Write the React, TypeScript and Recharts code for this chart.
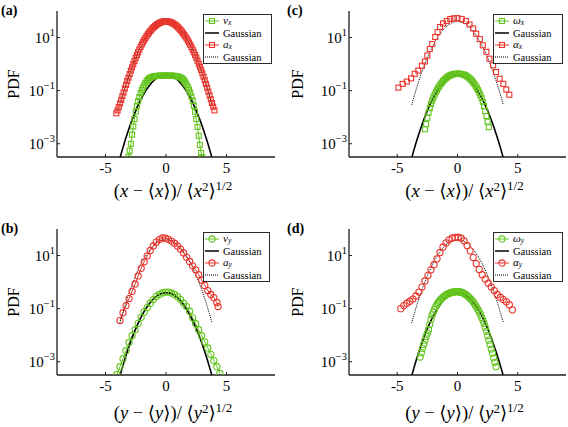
import React from 'react';
import { LineChart, Line, XAxis, YAxis, Legend } from 'recharts';

type Pt = [number, number];

const GREEN = '#62c41c';
const RED = '#e8342c';
const AXIS = '#1e1e1e';
const FONT = '"Liberation Serif", "DejaVu Serif", serif';

const X_DOMAIN: [number, number] = [-9, 9];
const X_TICKS = [-5, 0, 5];
const Y_DOMAIN: [number, number] = [0.000316, 100];
const Y_TICKS = [0.001, 0.1, 10];

// Gaussian reference curves (unit variance, and shifted by x100)
const gaussCurve: Pt[] = [[-3.9,0.000199],[-3.8,0.000292],[-3.6,0.000612],[-3.4,0.00123],[-3.2,0.00238],[-3.0,0.00443],[-2.8,0.00792],[-2.6,0.0136],[-2.4,0.0224],[-2.2,0.0355],[-2.0,0.054],[-1.8,0.079],[-1.6,0.111],[-1.4,0.15],[-1.2,0.194],[-1.0,0.242],[-0.8,0.29],[-0.6,0.333],[-0.4,0.368],[-0.2,0.391],[0,0.399],[0.2,0.391],[0.4,0.368],[0.6,0.333],[0.8,0.29],[1.0,0.242],[1.2,0.194],[1.4,0.15],[1.6,0.111],[1.8,0.079],[2.0,0.054],[2.2,0.0355],[2.4,0.0224],[2.6,0.0136],[2.8,0.00792],[3.0,0.00443],[3.2,0.00238],[3.4,0.00123],[3.6,0.000612],[3.8,0.000292],[3.9,0.000199]];
const gaussCurve100: Pt[] = [[-3.8,0.0292],[-3.6,0.0612],[-3.4,0.123],[-3.2,0.238],[-3.0,0.443],[-2.8,0.792],[-2.6,1.36],[-2.4,2.24],[-2.2,3.55],[-2.0,5.4],[-1.8,7.9],[-1.6,11.1],[-1.4,15.0],[-1.2,19.4],[-1.0,24.2],[-0.8,29.0],[-0.6,33.3],[-0.4,36.8],[-0.2,39.1],[0,39.9],[0.2,39.1],[0.4,36.8],[0.6,33.3],[0.8,29.0],[1.0,24.2],[1.2,19.4],[1.4,15.0],[1.6,11.1],[1.8,7.9],[2.0,5.4],[2.2,3.55],[2.4,2.24],[2.6,1.36],[2.8,0.792],[3.0,0.443],[3.2,0.238],[3.4,0.123],[3.6,0.0612],[3.8,0.0292]];

// (a) v_x and a_x
const vxPdf: Pt[] = [[-3.1,0.00032],[-3.0,0.00055],[-2.9,0.001],[-2.8,0.0022],[-2.7,0.0045],[-2.6,0.0085],[-2.5,0.016],[-2.4,0.026],[-2.3,0.04],[-2.2,0.057],[-2.1,0.08],[-2.0,0.105],[-1.9,0.13],[-1.8,0.16],[-1.7,0.195],[-1.6,0.23],[-1.5,0.26],[-1.4,0.285],[-1.3,0.305],[-1.2,0.32],[-1.1,0.335],[-1.0,0.345],[-0.9,0.352],[-0.8,0.357],[-0.7,0.36],[-0.6,0.362],[-0.5,0.364],[-0.4,0.365],[-0.3,0.366],[-0.2,0.366],[-0.1,0.367],[0,0.367],[0.1,0.367],[0.2,0.366],[0.3,0.365],[0.4,0.364],[0.5,0.363],[0.6,0.361],[0.7,0.358],[0.8,0.353],[0.9,0.346],[1.0,0.337],[1.1,0.326],[1.2,0.312],[1.3,0.294],[1.4,0.27],[1.5,0.24],[1.6,0.205],[1.7,0.17],[1.8,0.138],[1.9,0.11],[2.0,0.083],[2.1,0.06],[2.2,0.042],[2.3,0.027],[2.4,0.016],[2.5,0.0085],[2.6,0.0043],[2.7,0.002],[2.8,0.0009],[2.9,0.00045],[3.0,0.00031]];
const axPdf: Pt[] = [[-4.1,0.014],[-4.0,0.018],[-3.9,0.024],[-3.8,0.033],[-3.7,0.045],[-3.6,0.062],[-3.5,0.085],[-3.4,0.12],[-3.3,0.165],[-3.2,0.23],[-3.1,0.31],[-3.0,0.42],[-2.9,0.57],[-2.8,0.76],[-2.7,1.0],[-2.6,1.32],[-2.5,1.72],[-2.4,2.2],[-2.3,2.8],[-2.2,3.55],[-2.1,4.45],[-2.0,5.5],[-1.9,6.7],[-1.8,8.1],[-1.7,9.7],[-1.6,11.4],[-1.5,13.3],[-1.4,15.4],[-1.3,17.6],[-1.2,20],[-1.1,22.4],[-1.0,24.9],[-0.9,27.3],[-0.8,29.7],[-0.7,32],[-0.6,34.2],[-0.5,36.2],[-0.4,37.9],[-0.3,39.3],[-0.2,40.3],[-0.1,40.9],[0,41.1],[0.1,40.9],[0.2,40.2],[0.3,39.1],[0.4,37.6],[0.5,35.8],[0.6,33.8],[0.7,31.5],[0.8,29.1],[0.9,26.6],[1.0,24.1],[1.1,21.6],[1.2,19.2],[1.3,16.9],[1.4,14.7],[1.5,12.7],[1.6,10.9],[1.7,9.3],[1.8,7.8],[1.9,6.5],[2.0,5.35],[2.1,4.35],[2.2,3.5],[2.3,2.8],[2.4,2.22],[2.5,1.74],[2.6,1.35],[2.7,1.04],[2.8,0.79],[2.9,0.6],[3.0,0.45],[3.1,0.335],[3.2,0.245],[3.3,0.178],[3.4,0.128],[3.5,0.092],[3.6,0.066],[3.7,0.047],[3.8,0.034],[3.9,0.025],[4.0,0.018]];

// (b) v_y and a_y
const vyPdf: Pt[] = [[-4.05,0.00033],[-3.8,0.00065],[-3.55,0.0013],[-3.3,0.0026],[-3.05,0.0053],[-2.8,0.0095],[-2.55,0.016],[-2.3,0.028],[-2.05,0.047],[-1.8,0.075],[-1.55,0.11],[-1.3,0.16],[-1.05,0.22],[-0.8,0.29],[-0.55,0.34],[-0.3,0.39],[-0.05,0.42],[0.2,0.42],[0.45,0.39],[0.7,0.34],[0.95,0.28],[1.2,0.22],[1.45,0.16],[1.7,0.12],[1.95,0.08],[2.2,0.045],[2.45,0.027],[2.7,0.016],[2.95,0.0095],[3.2,0.0056],[3.45,0.0033],[3.7,0.0019],[3.95,0.0011],[4.2,0.00065],[4.45,0.00036]];
const ayPdf: Pt[] = [[-3.8,0.036],[-3.55,0.07],[-3.3,0.13],[-3.05,0.24],[-2.8,0.45],[-2.55,0.85],[-2.3,1.7],[-2.05,3.3],[-1.8,5.8],[-1.55,9.8],[-1.3,15.5],[-1.05,23],[-0.8,32],[-0.55,40],[-0.3,46],[-0.05,45],[0.2,41],[0.45,35],[0.7,29],[0.95,23],[1.2,17.5],[1.45,12.5],[1.7,8.7],[1.95,6.0],[2.2,4.1],[2.45,2.9],[2.7,1.9],[2.95,1.2],[3.2,0.75],[3.45,0.48],[3.7,0.34],[3.95,0.26],[4.2,0.17],[4.3,0.12]];

// (c) omega_x and alpha_x
const wxPdf: Pt[] = [[-2.7,0.0035],[-2.6,0.0055],[-2.5,0.0095],[-2.4,0.015],[-2.3,0.022],[-2.2,0.031],[-2.1,0.042],[-2.0,0.055],[-1.9,0.07],[-1.8,0.087],[-1.7,0.106],[-1.6,0.127],[-1.5,0.15],[-1.4,0.175],[-1.3,0.2],[-1.2,0.227],[-1.1,0.255],[-1.0,0.283],[-0.9,0.31],[-0.8,0.335],[-0.7,0.358],[-0.6,0.378],[-0.5,0.395],[-0.4,0.41],[-0.3,0.42],[-0.2,0.428],[-0.1,0.432],[0,0.434],[0.1,0.433],[0.2,0.43],[0.3,0.424],[0.4,0.415],[0.5,0.402],[0.6,0.386],[0.7,0.366],[0.8,0.344],[0.9,0.318],[1.0,0.29],[1.1,0.262],[1.2,0.233],[1.3,0.205],[1.4,0.178],[1.5,0.152],[1.6,0.128],[1.7,0.106],[1.8,0.086],[1.9,0.068],[2.0,0.052],[2.1,0.038],[2.2,0.026],[2.3,0.017],[2.4,0.011],[2.5,0.0068],[2.6,0.0042]];
const alxPdf: Pt[] = [[-4.9,0.13],[-4.55,0.18],[-4.2,0.22],[-3.85,0.29],[-3.55,0.43],[-3.25,0.57],[-2.95,0.87],[-2.7,1.25],[-2.5,2.1],[-2.3,3.7],[-2.1,5.7],[-1.85,10.5],[-1.65,16],[-1.45,25],[-1.2,34],[-0.9,42],[-0.6,50],[-0.3,53],[0,54],[0.35,50],[0.7,42],[1.0,31],[1.3,22],[1.55,14],[1.85,8.7],[2.1,5.1],[2.4,2.9],[2.65,1.6],[2.95,0.9],[3.2,0.5],[3.5,0.28],[3.8,0.18],[4.05,0.11],[4.3,0.07]];

// (d) omega_y and alpha_y
const wyPdf: Pt[] = [[-3.1,0.0015],[-3.0,0.0022],[-2.9,0.0032],[-2.8,0.0045],[-2.7,0.0065],[-2.6,0.009],[-2.5,0.012],[-2.4,0.016],[-2.3,0.025],[-2.2,0.04],[-2.1,0.058],[-2.0,0.075],[-1.9,0.095],[-1.8,0.12],[-1.7,0.145],[-1.6,0.17],[-1.5,0.195],[-1.4,0.22],[-1.3,0.245],[-1.2,0.27],[-1.1,0.295],[-1.0,0.32],[-0.9,0.34],[-0.8,0.36],[-0.7,0.375],[-0.6,0.39],[-0.5,0.405],[-0.4,0.415],[-0.3,0.425],[-0.2,0.43],[-0.1,0.435],[0,0.435],[0.1,0.43],[0.2,0.425],[0.3,0.415],[0.4,0.4],[0.5,0.38],[0.6,0.36],[0.7,0.335],[0.8,0.31],[0.9,0.28],[1.0,0.255],[1.1,0.23],[1.2,0.205],[1.3,0.18],[1.4,0.155],[1.5,0.13],[1.6,0.11],[1.7,0.092],[1.8,0.076],[1.9,0.06],[2.0,0.047],[2.1,0.037],[2.2,0.028],[2.3,0.02],[2.4,0.014],[2.5,0.0095],[2.6,0.0065],[2.7,0.0045],[2.8,0.003],[2.9,0.0021],[3.0,0.0014],[3.1,0.00095],[3.2,0.00065]];
const alyPdf: Pt[] = [[-4.7,0.1],[-4.45,0.13],[-4.2,0.16],[-3.95,0.19],[-3.7,0.23],[-3.45,0.3],[-3.2,0.42],[-2.95,0.65],[-2.7,1.1],[-2.45,1.8],[-2.2,2.9],[-1.95,4.5],[-1.7,7.5],[-1.45,13],[-1.2,21],[-0.95,30],[-0.7,39],[-0.45,45],[-0.2,48],[0.05,49],[0.3,45],[0.55,36],[0.8,24],[1.05,15],[1.3,8.5],[1.55,5.0],[1.8,3.0],[2.05,1.9],[2.3,1.3],[2.55,0.92],[2.8,0.66],[3.05,0.48],[3.3,0.34],[3.55,0.27],[3.8,0.22],[4.05,0.18],[4.3,0.14],[4.55,0.09]];

const rows = (pts: Pt[]) => pts.map(([x, y]) => ({ x, y }));

const squareDot = (color: string) => (p: any) => {
  if (p.cx == null || p.cy == null) return <g key={`e${p.index}`} />;
  return <rect key={`s${p.index}`} x={p.cx - 2.5} y={p.cy - 2.5} width={5} height={5} fill="none" stroke={color} strokeWidth={1.1} />;
};
const circleDot = (color: string) => (p: any) => {
  if (p.cx == null || p.cy == null) return <g key={`e${p.index}`} />;
  return <circle key={`c${p.index}`} cx={p.cx} cy={p.cy} r={3.1} fill="none" stroke={color} strokeWidth={1.1} />;
};

const YTick = (props: any) => {
  const { x, y, payload } = props;
  const e = Math.round(Math.log10(payload.value));
  return (
    <text x={x} y={y} dy={5} textAnchor="end" fontFamily={FONT} fontSize={15} fill="#000">
      10<tspan fontSize={10.5} dy={-7}>{e < 0 ? '\u2212' + -e : String(e)}</tspan>
    </text>
  );
};

const XTick = (props: any) => {
  const { x, y, payload } = props;
  return (
    <text x={x} y={y} dy={16} textAnchor="middle" fontFamily={FONT} fontSize={15} fill="#000">
      {payload.value < 0 ? '-' + -payload.value : String(payload.value)}
    </text>
  );
};

const xTitle = (v: string, off: number) => (props: any) => {
  const vb = props.viewBox || { x: 0, y: 0, width: 0 };
  const cx = vb.x + vb.width / 2 + 7;
  const y = vb.y + off;
  return (
    <text x={cx} y={y} textAnchor="middle" fontFamily={FONT} fontSize={18.5} fill="#000">
      <tspan>(</tspan>
      <tspan fontStyle="italic">{v}</tspan>
      <tspan> {'\u2212'} {'\u27E8'}</tspan>
      <tspan fontStyle="italic">{v}</tspan>
      <tspan>{'\u27E9'})/ {'\u27E8'}</tspan>
      <tspan fontStyle="italic">{v}</tspan>
      <tspan fontSize={13} dy={-6}>2</tspan>
      <tspan dy={6}>{'\u27E9'}</tspan>
      <tspan fontSize={13} dy={-7}>1/2</tspan>
    </text>
  );
};

const yTitle = (letter: string, lx: number, ly: number) => (props: any) => {
  const vb = props.viewBox || { x: 0, y: 0, height: 0 };
  const cy = vb.y + vb.height / 2;
  return (
    <g>
      <text x={13} y={cy} transform={`rotate(-90 13 ${cy})`} textAnchor="middle" dominantBaseline="central" fontFamily={FONT} fontSize={16} fill="#000">PDF</text>
      <text x={lx} y={ly} dominantBaseline="central" fontFamily={FONT} fontWeight="bold" fontSize={14} fill="#000">({letter})</text>
    </g>
  );
};

type LegItem = { kind: 'marker' | 'solid' | 'dotted'; color?: string; shape?: 'square' | 'circle'; sym?: string; sub?: string };

const LegendBox = ({ w, h, items }: { w: number; h: number; items: LegItem[] }) => {
  const rowH = (h - 2) / items.length;
  return (
    <svg width={w} height={h} style={{ display: 'block', overflow: 'visible' }}>
      <rect x={0.5} y={0.5} width={w - 1} height={h - 1} fill="#fff" stroke="#2a2a2a" strokeWidth={1} />
      {items.map((it, i) => {
        const cy = 1 + rowH * (i + 0.5);
        const color = it.kind === 'marker' ? it.color : '#000';
        return (
          <g key={i}>
            <line x1={2} x2={16} y1={cy} y2={cy} stroke={color} strokeWidth={it.kind === 'solid' ? 1.5 : 1} strokeDasharray={it.kind === 'dotted' ? '1 1' : undefined} />
            {it.kind === 'marker' && it.shape === 'square' && (
              <rect x={9 - 2.5} y={cy - 2.5} width={5} height={5} fill="none" stroke={color} strokeWidth={1.1} />
            )}
            {it.kind === 'marker' && it.shape === 'circle' && (
              <circle cx={9} cy={cy} r={3.1} fill="none" stroke={color} strokeWidth={1.1} />
            )}
            {it.kind === 'marker' ? (
              <text x={20} y={cy + 2.5} fontFamily={FONT} fontSize={11} fill="#000">
                <tspan fontStyle="italic">{it.sym}</tspan>
                <tspan fontStyle="italic" fontSize={7.5} dy={1}>{it.sub}</tspan>
              </text>
            ) : (
              <text x={20} y={cy + 3.5} fontFamily={FONT} fontSize={10.5} fill="#000">Gaussian</text>
            )}
          </g>
        );
      })}
    </svg>
  );
};

type PanelCfg = {
  left: number; top: number; w: number; h: number;
  yw: number; xh: number; mt: number; mr: number;
  letter: string; v: string; titleOff: number; lx: number; ly: number;
  shape: 'square' | 'circle';
  small: Pt[]; big: Pt[];
  smallSym: string; bigSym: string; sub: string;
  legend: { left: number; top: number; w: number; h: number };
  smallLine: boolean; bigLine: boolean;
};

const Panel = ({ c }: { c: PanelCfg }) => {
  const dotFn = c.shape === 'square' ? squareDot : circleDot;
  const items: LegItem[] = [
    { kind: 'marker', color: GREEN, shape: c.shape, sym: c.smallSym, sub: c.sub },
    { kind: 'solid' },
    { kind: 'marker', color: RED, shape: c.shape, sym: c.bigSym, sub: c.sub },
    { kind: 'dotted' },
  ];
  return (
    <div style={{ position: 'absolute', left: c.left, top: c.top, width: c.w, height: c.h }}>
      <LineChart width={c.w} height={c.h} margin={{ top: c.mt, right: c.mr, left: 0, bottom: 0 }}>
        <XAxis xAxisId="b" type="number" dataKey="x" domain={X_DOMAIN} ticks={X_TICKS} interval={0} allowDataOverflow
          orientation="bottom" height={c.xh} axisLine={{ stroke: AXIS, strokeWidth: 1.3 }} tickLine={{ stroke: AXIS }}
          tickSize={-3} tickMargin={3} tick={<XTick />} label={xTitle(c.v, c.titleOff)} />
        <XAxis xAxisId="t" type="number" dataKey="x" domain={X_DOMAIN} ticks={X_TICKS} interval={0} allowDataOverflow
          orientation="top" height={0} axisLine={{ stroke: AXIS, strokeWidth: 1.3 }} tickLine={{ stroke: AXIS }}
          tickSize={-3} tick={false} />
        <YAxis yAxisId="l" type="number" dataKey="y" scale="log" domain={Y_DOMAIN} ticks={Y_TICKS} interval={0} allowDataOverflow
          width={c.yw} axisLine={{ stroke: AXIS, strokeWidth: 1.3 }} tickLine={{ stroke: AXIS }}
          tickSize={-3} tickMargin={5} tick={<YTick />} label={yTitle(c.letter, c.lx, c.ly)} />
        <YAxis yAxisId="r" orientation="right" type="number" dataKey="y" scale="log" domain={Y_DOMAIN} ticks={Y_TICKS} interval={0} allowDataOverflow
          width={0} axisLine={{ stroke: AXIS, strokeWidth: 1.3 }} tickLine={{ stroke: AXIS }}
          tickSize={-3} tick={false} />
        <Line xAxisId="b" yAxisId="l" data={rows(c.small)} dataKey="y" type="linear" stroke={c.smallLine ? GREEN : 'none'} strokeWidth={1}
          dot={dotFn(GREEN)} activeDot={false} isAnimationActive={false} />
        <Line xAxisId="b" yAxisId="l" data={rows(gaussCurve)} dataKey="y" type="linear" stroke="#000" strokeWidth={1.6}
          dot={false} activeDot={false} isAnimationActive={false} />
        <Line xAxisId="b" yAxisId="l" data={rows(c.big)} dataKey="y" type="linear" stroke={c.bigLine ? RED : 'none'} strokeWidth={1}
          dot={dotFn(RED)} activeDot={false} isAnimationActive={false} />
        <Line xAxisId="b" yAxisId="l" data={rows(gaussCurve100)} dataKey="y" type="linear" stroke="#000" strokeWidth={1}
          strokeDasharray="1 1" dot={false} activeDot={false} isAnimationActive={false} />
        <Legend layout="horizontal" verticalAlign="middle" align="center"
          wrapperStyle={{ left: c.legend.left, top: c.legend.top, width: c.legend.w, height: c.legend.h }}
          content={() => <LegendBox w={c.legend.w} h={c.legend.h} items={items} />} />
      </LineChart>
    </div>
  );
};

const panels: PanelCfg[] = [
  { left: 0, top: 0, w: 284, h: 214, yw: 57, xh: 57, mt: 11, mr: 9, letter: 'a', v: 'x', titleOff: 40, lx: 1, ly: 10,
    shape: 'square', small: vxPdf, big: axPdf, smallSym: 'v', bigSym: 'a', sub: 'x',
    legend: { left: 203, top: 14, w: 69, h: 50 }, smallLine: true, bigLine: true },
  { left: 0, top: 214, w: 284, h: 213, yw: 57, xh: 52, mt: 15, mr: 9, letter: 'b', v: 'y', titleOff: 44, lx: 1, ly: 14,
    shape: 'circle', small: vyPdf, big: ayPdf, smallSym: 'v', bigSym: 'a', sub: 'y',
    legend: { left: 203, top: 18, w: 67, h: 50 }, smallLine: true, bigLine: true },
  { left: 284, top: 0, w: 284, h: 214, yw: 65, xh: 57, mt: 11, mr: 2, letter: 'c', v: 'x', titleOff: 40, lx: 3, ly: 10,
    shape: 'square', small: wxPdf, big: alxPdf, smallSym: '\u03C9', bigSym: '\u03B1', sub: 'x',
    legend: { left: 209, top: 14, w: 70, h: 50 }, smallLine: false, bigLine: false },
  { left: 284, top: 214, w: 284, h: 213, yw: 65, xh: 52, mt: 15, mr: 2, letter: 'd', v: 'y', titleOff: 44, lx: 3, ly: 14,
    shape: 'circle', small: wyPdf, big: alyPdf, smallSym: '\u03C9', bigSym: '\u03B1', sub: 'y',
    legend: { left: 209, top: 18, w: 70, h: 50 }, smallLine: false, bigLine: false },
];

export default function App() {
  return (
    <div style={{ position: 'absolute', left: 0, top: 0, width: 568, height: 427, background: '#fff', overflow: 'hidden' }}>
      {panels.map((c) => (
        <Panel key={c.letter} c={c} />
      ))}
    </div>
  );
}
